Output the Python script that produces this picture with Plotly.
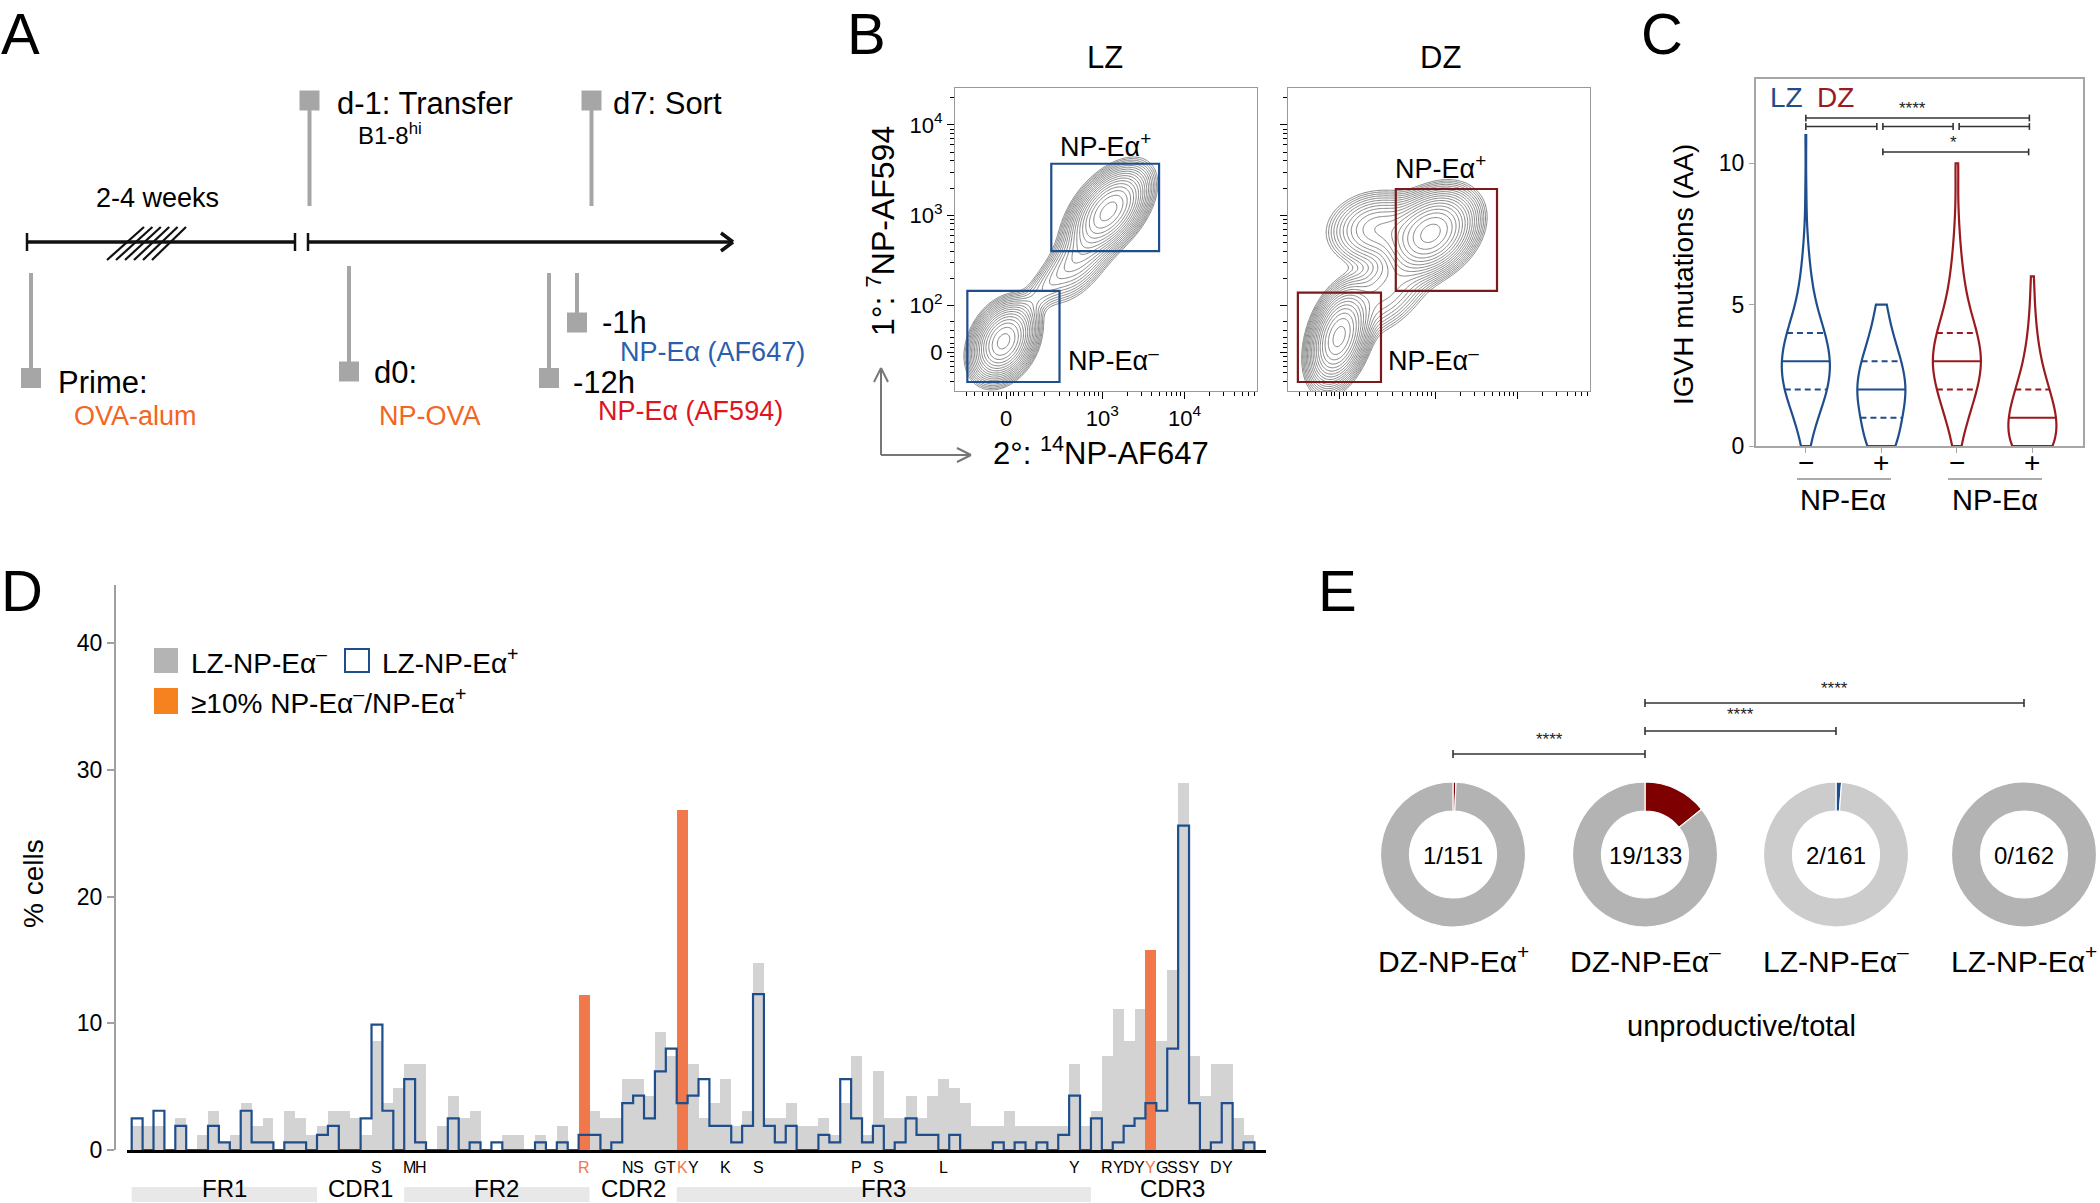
import numpy as np
import plotly.graph_objects as go

FONT = "Liberation Sans, Arial, sans-serif"
W, H = 2100, 1203

LZ_BLUE = "#1f4e8c"
DZ_RED = "#9a1b1f"
ORANGE = "#f0784a"

# ---------------- panel D: mutation frequency per IGHV residue (% cells)
residue = list(range(103))
lz_neg_pct = [1.9, 1.9, 1.9, 0, 2.5, 0, 1.2, 3.1, 0.6, 1.2,
              3.7, 1.9, 2.5, 0, 3.1, 2.5, 1.2, 1.9, 3.1, 3.1,
              2.5, 1.2, 8.6, 3.7, 4.9, 6.8, 6.8, 0, 1.9, 4.3,
              2.5, 3.1, 0, 0, 1.2, 1.2, 0, 1.2, 0, 1.9,
              0, 0, 3.1, 2.5, 2.5, 5.6, 5.6, 4.3, 9.3, 7.4,
              0, 6.8, 2.5, 3.7, 5.6, 1.9, 3.1, 14.8, 2.5, 2.5,
              3.7, 1.9, 1.9, 2.5, 1.2, 3.7, 7.4, 1.2, 6.2, 2.5,
              2.5, 4.3, 2.5, 4.3, 5.6, 4.9, 3.7, 1.9, 1.9, 1.9,
              3.1, 1.9, 1.9, 1.9, 1.9, 1.9, 6.8, 1.9, 3.1, 7.4,
              11.1, 8.6, 11.1, 0, 8.6, 14.2, 29.0, 7.4, 4.3, 6.8,
              6.8, 2.5, 1.2]
lz_pos_pct = [2.5, 0, 3.1, 0, 1.9, 0, 0, 1.9, 0.6, 0,
              3.1, 0.6, 0.6, 0, 0.6, 0.6, 0, 1.2, 1.9, 0,
              0, 2.5, 9.9, 3.1, 0, 5.6, 0.6, 0, 0, 2.5,
              0, 0.6, 0, 0.6, 0, 0, 0, 0.6, 0, 0.6,
              0, 1.2, 1.2, 0, 0.6, 3.7, 4.3, 2.5, 6.2, 8.0,
              3.7, 4.3, 5.6, 1.9, 1.9, 0.6, 1.9, 12.3, 1.9, 0.6,
              1.9, 0, 0, 1.2, 0.6, 5.6, 2.5, 0.6, 1.9, 0,
              0.6, 2.5, 1.2, 1.2, 0, 1.2, 0, 0, 0, 0.6,
              0, 0.6, 0, 0.6, 0, 1.2, 4.3, 0, 2.5, 0,
              0.6, 1.9, 2.5, 3.7, 3.1, 8.0, 25.6, 3.7, 0, 0.6,
              3.7, 0, 0.6]
hot_residue = [41, 50, 93]
hot_pct = [12.2, 26.8, 15.8]
aa_residue = [22, 25, 26, 41, 45, 46, 48, 49, 50, 51, 54, 57, 66, 68, 74, 86,
              89, 90, 91, 92, 93, 94, 95, 96, 97, 99, 100]
aa_letter = ["S", "M", "H", "R", "N", "S", "G", "T", "K", "Y", "K", "S", "P", "S", "L", "Y",
             "R", "Y", "D", "Y", "Y", "G", "S", "S", "Y", "D", "Y"]
region_name = ["FR1", "CDR1", "FR2", "CDR2", "FR3", "CDR3"]
region_from = [-0.5, 16.5, 24.5, 41.5, 49.5, 87.5]
region_to = [16.5, 24.5, 41.5, 49.5, 87.5, 102.5]
region_shaded = [True, False, True, False, True, False]

# ---------------- panel C: IGVH AA mutations per cell (cell counts)
mut_n = list(range(12))
lz_neg_cells = [6, 18, 35, 40, 30, 15, 8, 4, 1, 1, 0, 1]
lz_pos_cells = [28, 35, 45, 35, 18, 9]
dz_neg_cells = [4, 12, 22, 28, 22, 12, 7, 4, 2, 1, 2]
dz_pos_cells = [45, 45, 30, 15, 8, 4, 3]
c_ticks = ["−", "+", "−", "+"]

# ---------------- panel E: unproductive / total
e_groups = ["DZ-NP-Eα<sup>+</sup>", "DZ-NP-Eα<sup>–</sup>", "LZ-NP-Eα<sup>–</sup>", "LZ-NP-Eα<sup>+</sup>"]
e_unprod = [1, 19, 2, 0]
e_total = [151, 133, 161, 162]

# ---------------- panel B: populations (cx, cy, sx, sy, rho, weight) in decades
lz_pops = [(1.80, 1.60, 0.17, 0.19, 0.3, 1.0),
           (3.08, 3.05, 0.21, 0.21, 0.5, 1.0),
           (2.75, 2.55, 0.22, 0.25, 0.6, 0.15),
           (2.35, 2.25, 0.25, 0.25, 0.85, 0.06)]
dz_pops = [(1.83, 1.65, 0.16, 0.24, 0.35, 1.0),
           (2.95, 2.80, 0.24, 0.21, 0.3, 1.0),
           (2.30, 2.85, 0.28, 0.19, 0.1, 0.22),
           (2.40, 2.15, 0.28, 0.25, 0.5, 0.12)]


def px(x):
    return x / W


def py(y):
    return 1 - y / H


def T(x, y, text, size, color="black", xa="center", ya="middle", angle=0):
    return dict(x=px(x), y=py(y), xref="paper", yref="paper", text=text, showarrow=False,
                font=dict(size=size, color=color, family=FONT), xanchor=xa, yanchor=ya,
                textangle=angle)


def L(x0, y0, x1, y1, color="black", width=2, dash=None):
    return dict(type="line", xref="paper", yref="paper", x0=px(x0), y0=py(y0), x1=px(x1), y1=py(y1),
                line=dict(color=color, width=width, dash=dash))


def R(x0, y0, x1, y1, fill, line="rgba(0,0,0,0)", width=0):
    return dict(type="rect", xref="paper", yref="paper", x0=px(x0), y0=py(y0), x1=px(x1), y1=py(y1),
                fillcolor=fill, line=dict(color=line, width=width))


fig = go.Figure()
shapes = []
anns = []

# ======================= panel D
fig.add_trace(go.Bar(x=residue, y=lz_neg_pct, width=1, marker=dict(color="#d3d3d3", line=dict(width=0)),
                     xaxis="x", yaxis="y", hoverinfo="skip"))
fig.add_trace(go.Bar(x=hot_residue, y=hot_pct, width=1, marker=dict(color=ORANGE, line=dict(width=0)),
                     xaxis="x", yaxis="y", hoverinfo="skip"))
step_x = [-0.5] + [r - 0.5 for r in residue] + [residue[-1] + 0.5]
step_y = [0] + list(lz_pos_pct) + [0]
fig.add_trace(go.Scatter(x=step_x, y=step_y, mode="lines", line=dict(color=LZ_BLUE, width=2.2, shape="hv"),
                         xaxis="x", yaxis="y", hoverinfo="skip"))

for r, a in zip(aa_residue, aa_letter):
    anns.append(dict(x=r, y=py(1167), xref="x", yref="paper", text=a, showarrow=False,
                     xanchor="center", yanchor="middle",
                     font=dict(size=16, family=FONT, color=ORANGE if r in hot_residue else "black")))
for name, a, b, shaded in zip(region_name, region_from, region_to, region_shaded):
    if shaded:
        shapes.append(dict(type="rect", xref="x", yref="paper", x0=a, x1=b, y0=py(1202), y1=py(1187),
                           fillcolor="#e8e8e8", line=dict(width=0), layer="below"))
    anns.append(dict(x=(a + b) / 2, y=0, xref="x", yref="paper", text=name, showarrow=False,
                     xanchor="center", yanchor="bottom", borderpad=0,
                     font=dict(size=24, family=FONT, color="black")))

# legend D
shapes.append(R(154, 648, 178, 673, "#b4b4b4"))
shapes.append(R(345, 649, 369, 672, "white", LZ_BLUE, 2))
shapes.append(R(154, 688, 178, 714, "#f5821f"))
anns.append(T(189, 661, "LZ-NP-Eα<sup>–</sup>", 28, xa="left"))
anns.append(T(380, 661, "LZ-NP-Eα<sup>+</sup>", 28, xa="left"))
anns.append(T(189, 701, "≥10% NP-Eα<sup>–</sup>/NP-Eα<sup>+</sup>", 28, xa="left"))
anns.append(T(33, 884, "% cells", 28, angle=-90))

# ======================= panel C
BW = 0.7
VW = 0.636
for xpos, counts, col in ((1, lz_neg_cells, LZ_BLUE), (2, lz_pos_cells, LZ_BLUE),
                          (3, dz_neg_cells, DZ_RED), (4, dz_pos_cells, DZ_RED)):
    samples = np.repeat(np.array(mut_n[:len(counts)]), counts).astype(float)
    fig.add_trace(go.Violin(x0=xpos, y=samples, xaxis="x2", yaxis="y2", bandwidth=BW, spanmode="hard",
                            scalemode="width", width=VW, points=False, side="both",
                            line=dict(color=col, width=2.2), fillcolor="rgba(0,0,0,0)",
                            box_visible=False, meanline_visible=False, hoverinfo="skip"))
    grid = np.linspace(samples.min(), samples.max(), 500)
    peak = np.exp(-0.5 * ((grid[:, None] - samples[None, :]) / BW) ** 2).sum(1).max()
    q1, med, q3 = np.percentile(samples, [25, 50, 75])
    for q, dash in ((q1, "6px,4px"), (med, "solid"), (q3, "6px,4px")):
        d = np.exp(-0.5 * ((q - samples) / BW) ** 2).sum()
        hw = d / peak * VW / 2
        fig.add_trace(go.Scatter(x=[xpos - hw, xpos + hw], y=[q, q], mode="lines",
                                 line=dict(color=col, width=2, dash=dash),
                                 xaxis="x2", yaxis="y2", hoverinfo="skip"))


def bracket(x0, x1, y, xref, yref, cap, color="#333", width=1.6):
    out = [dict(type="line", xref=xref, yref=yref, x0=x0, x1=x1, y0=y, y1=y, line=dict(color=color, width=width))]
    for xx in (x0, x1):
        out.append(dict(type="line", xref=xref, yref=yref, x0=xx, x1=xx, y0=y - cap, y1=y + cap,
                        line=dict(color=color, width=width)))
    return out


shapes += bracket(1, 3.96, 11.6, "x2", "y2", 0.12)
for a, b in ((1, 1.94), (2.02, 2.95), (3.03, 3.96)):
    shapes += bracket(a, b, 11.3, "x2", "y2", 0.12)
shapes += bracket(2.02, 3.95, 10.4, "x2", "y2", 0.12)
anns.append(dict(x=2.41, y=11.95, xref="x2", yref="y2", text="****", showarrow=False,
                 xanchor="center", yanchor="middle", font=dict(size=17, family=FONT, color="#222")))
anns.append(dict(x=2.96, y=10.73, xref="x2", yref="y2", text="*", showarrow=False,
                 xanchor="center", yanchor="middle", font=dict(size=17, family=FONT, color="#222")))
for i, t in enumerate(c_ticks):
    anns.append(dict(x=i + 1, y=py(462), xref="x2", yref="paper", text=t, showarrow=False,
                     xanchor="center", yanchor="middle", font=dict(size=28, family=FONT, color="black")))
anns.append(T(1768, 98, "LZ", 28, LZ_BLUE, xa="left"))
anns.append(T(1815, 98, "DZ", 28, DZ_RED, xa="left"))
anns.append(T(1683, 275, "IGVH mutations (AA)", 28, angle=-90))
shapes.append(L(1797, 479, 1891, 479, "#aaaaaa", 2))
shapes.append(L(1948, 479, 2042, 479, "#aaaaaa", 2))
anns.append(T(1843, 500, "NP-Eα", 29))
anns.append(T(1995, 500, "NP-Eα", 29))

# ======================= panel B
gx = np.linspace(1.21, 4.88, 260)
gy = np.linspace(1.05, 4.41, 260)
GX, GY = np.meshgrid(gx, gy)
for pops, xa, ya in ((lz_pops, "x3", "y3"), (dz_pops, "x4", "y4")):
    Z = np.zeros_like(GX)
    for cx, cy, sx, sy, rho, w in pops:
        dx = (GX - cx) / sx
        dy = (GY - cy) / sy
        Z += w * np.exp(-0.5 * (dx * dx - 2 * rho * dx * dy + dy * dy) / (1 - rho * rho))
    Z = np.log10(Z / Z.max() + 1e-9)
    fig.add_trace(go.Contour(x=gx, y=gy, z=Z, xaxis=xa, yaxis=ya,
                             contours=dict(coloring="lines", start=-1.75, end=-0.03, size=0.1),
                             line=dict(width=0.8), colorscale=[[0, "#666666"], [1, "#666666"]],
                             showscale=False, hoverinfo="skip"))

gates = [("x3", "y3", 2.38, 3.69, 2.60, 3.57, LZ_BLUE),
         ("x3", "y3", 1.36, 2.48, 1.15, 2.16, LZ_BLUE),
         ("x4", "y4", 2.52, 3.75, 2.16, 3.29, "#7b1a1a"),
         ("x4", "y4", 1.33, 2.34, 1.15, 2.14, "#7b1a1a")]
for xa, ya, x0, x1, y0, y1, col in gates:
    shapes.append(dict(type="rect", xref=xa, yref=ya, x0=x0, x1=x1, y0=y0, y1=y1,
                       line=dict(color=col, width=2.2)))

anns.append(T(1105, 145, "NP-Eα<sup>+</sup>", 27))
anns.append(T(1066, 359, "NP-Eα<sup>–</sup>", 27, xa="left"))
anns.append(T(1440, 167, "NP-Eα<sup>+</sup>", 27))
anns.append(T(1386, 359, "NP-Eα<sup>–</sup>", 27, xa="left"))
anns.append(T(1105, 57, "LZ", 31))
anns.append(T(1440, 58, "DZ", 31))
anns.append(T(881, 231, "1°: <sup>7</sup>NP-AF594", 32, angle=-90))
anns.append(T(1101, 451, "2°: <sup>14</sup>NP-AF647", 31))
shapes.append(L(881, 455, 881, 370, "#777777", 2))
shapes.append(L(881, 455, 969, 455, "#777777", 2))
shapes.append(L(874, 382, 881, 368, "#777777", 2))
shapes.append(L(888, 382, 881, 368, "#777777", 2))
shapes.append(L(957, 448, 971, 455, "#777777", 2))
shapes.append(L(957, 462, 971, 455, "#777777", 2))

# ======================= panel E
e_cols = [("#7f0000", "#b3b3b3"), ("#7f0000", "#b3b3b3"), (LZ_BLUE, "#cccccc"), (LZ_BLUE, "#b3b3b3")]
e_cx = [1453, 1645, 1836, 2024]
for g, u, t, cx, cols in zip(e_groups, e_unprod, e_total, e_cx, e_cols):
    fig.add_trace(go.Pie(values=[u, t - u], hole=0.6, sort=False, direction="clockwise", rotation=0,
                         marker=dict(colors=list(cols), line=dict(color="white", width=1.2)),
                         textinfo="none", hoverinfo="skip",
                         domain=dict(x=[px(cx - 72.5), px(cx + 72.5)], y=[py(927), py(782)])))
    anns.append(T(cx, 855, f"{u}/{t}", 24))
    anns.append(T(cx, 959, g, 30))
anns.append(T(1741, 1026, "unproductive/total", 29))
for (i, j), yb, ys in (((0, 1), 754, 739), ((1, 2), 731, 714), ((1, 3), 703, 688)):
    shapes.append(L(e_cx[i], yb, e_cx[j], yb, "#333333", 1.6))
    shapes.append(L(e_cx[i], yb - 4, e_cx[i], yb + 4, "#333333", 1.6))
    shapes.append(L(e_cx[j], yb - 4, e_cx[j], yb + 4, "#333333", 1.6))
    anns.append(T((e_cx[i] + e_cx[j]) / 2, ys, "****", 17, "#222"))

# ======================= panel A (timeline schematic)
shapes.append(L(27, 242, 295, 242, "#111111", 3.5))
shapes.append(L(27, 233, 27, 251, "#111111", 2.5))
shapes.append(L(295, 233, 295, 251, "#111111", 2.5))
shapes.append(L(308, 242, 731, 242, "#111111", 3.5))
shapes.append(L(308, 233, 308, 251, "#111111", 2.5))
shapes.append(L(721, 233, 733, 242, "#111111", 3.5))
shapes.append(L(721, 251, 733, 242, "#111111", 3.5))
for k in range(6):
    shapes.append(L(107 + 9 * k, 260, 144 + 8.4 * k, 227, "#111111", 2.2))
GREY = "#a6a6a6"
for x, ytop, ybot, ysq in ((31, 273, 368, 378), (309.5, 110, 206, 100.5), (591.5, 110, 206, 100.5),
                           (349, 266, 362, 371.5), (549, 273, 368, 378), (577, 273, 313, 322.5)):
    shapes.append(L(x, ytop, x, ybot, GREY, 4))
    shapes.append(R(x - 10, ysq - 10, x + 10, ysq + 10, GREY))
anns.append(T(157, 198, "2-4 weeks", 27))
anns.append(T(56, 383, "Prime:", 31, xa="left"))
anns.append(T(135, 416, "OVA-alum", 27, "#f26522"))
anns.append(T(335, 104, "d-1: Transfer", 31, xa="left"))
anns.append(T(356, 134, "B1-8<sup>hi</sup>", 24, xa="left"))
anns.append(T(611, 104, "d7: Sort", 31, xa="left"))
anns.append(T(372, 373, "d0:", 31, xa="left"))
anns.append(T(430, 416, "NP-OVA", 27, "#f26522"))
anns.append(T(571, 383, "-12h", 31, xa="left"))
anns.append(T(690, 411, "NP-Eα (AF594)", 27, "#e0141e"))
anns.append(T(600, 323, "-1h", 31, xa="left"))
anns.append(T(712, 352, "NP-Eα (AF647)", 27, "#2b5fad"))

# panel letters (top row pinned to the page top so nothing is clipped)
for letter, x in (("A", 20), ("B", 866), ("C", 1662)):
    anns.append(dict(x=px(x), y=1, xref="paper", yref="paper", text=letter, showarrow=False,
                     xanchor="center", yanchor="top", borderpad=0,
                     font=dict(size=58, family=FONT, color="black")))
for letter, x, y in (("D", 22, 590), ("E", 1337, 590)):
    anns.append(T(x, y, letter, 58))

# ======================= axes
ytick_minor = [1.15, 1.25, 1.32, 1.38, 1.43, 1.53, 1.58, 1.64, 1.72, 1.82] + \
    [d + np.log10(m) for d in (2, 3, 4) for m in range(2, 10) if d + np.log10(m) < 4.41]
xtick_minor = [1.35, 1.45, 1.55, 1.62, 1.68, 1.74, 1.78, 1.88, 1.92, 1.98, 2.05, 2.15, 2.3] + \
    [d + np.log10(m) for d in (2, 3, 4) for m in range(2, 10) if 2.35 < d + np.log10(m) < 4.88]

b_x = dict(range=[1.21, 4.88], showgrid=False, zeroline=False, showline=True, mirror=True,
           linecolor="#999999", linewidth=1.2, ticks="outside", ticklen=7, tickcolor="black",
           tickvals=[1.83, 3, 4], ticktext=["0", "10<sup>3</sup>", "10<sup>4</sup>"],
           tickfont=dict(size=22, family=FONT, color="black"), automargin=False,
           minor=dict(tickvals=xtick_minor, ticks="outside", ticklen=4, tickcolor="black"))
b_y = dict(range=[1.05, 4.41], showgrid=False, zeroline=False, showline=True, mirror=True,
           linecolor="#999999", linewidth=1.2, ticks="outside", ticklen=7, tickcolor="black",
           tickvals=[1.48, 2, 3, 4], ticktext=["0", "10<sup>2</sup>", "10<sup>3</sup>", "10<sup>4</sup>"],
           tickfont=dict(size=22, family=FONT, color="black"), automargin=False,
           minor=dict(tickvals=ytick_minor, ticks="outside", ticklen=4, tickcolor="black"))

fig.update_layout(
    width=W, height=H, margin=dict(l=0, r=0, t=0, b=0, autoexpand=False),
    paper_bgcolor="white", plot_bgcolor="white", showlegend=False,
    barmode="overlay", bargap=0, violinmode="overlay",
    font=dict(family=FONT, color="black"),
    xaxis=dict(domain=[px(127), px(1266)], range=[-0.931, 103.56], anchor="y", automargin=False,
               showgrid=False, zeroline=False, showline=True, linecolor="black", linewidth=3,
               ticks="", showticklabels=False),
    yaxis=dict(domain=[py(1150), py(585)], range=[0, 44.6], anchor="free", position=px(115),
               automargin=False,
               showgrid=False, zeroline=False, showline=True, linecolor="#a0a0a0", linewidth=2,
               ticks="outside", ticklen=7, tickwidth=2, tickcolor="#a0a0a0",
               tickvals=[0, 10, 20, 30, 40], tickfont=dict(size=23, family=FONT, color="black")),
    xaxis2=dict(domain=[px(1756), px(2083)], range=[0.34, 4.67], anchor="y2", automargin=False,
                showgrid=False, zeroline=False, showline=True, mirror=True, linecolor="#a6a6a6",
                linewidth=2, ticks="outside", ticklen=5, tickcolor="#a6a6a6",
                tickvals=[1, 2, 3, 4], showticklabels=False),
    yaxis2=dict(domain=[py(446), py(79)], range=[0, 12.98], anchor="x2", automargin=False,
                showgrid=False, zeroline=False, showline=True, mirror=True, linecolor="#a6a6a6",
                linewidth=2, ticks="outside", ticklen=5, tickcolor="#a6a6a6",
                tickvals=[0, 5, 10], tickfont=dict(size=23, family=FONT, color="black")),
    xaxis3=dict(domain=[px(955), px(1257)], anchor="y3", **b_x),
    yaxis3=dict(domain=[py(391), py(88)], anchor="x3", **b_y),
    xaxis4=dict(domain=[px(1288), px(1590)], anchor="y4", **{**b_x, "showticklabels": False}),
    yaxis4=dict(domain=[py(391), py(88)], anchor="x4", **{**b_y, "showticklabels": False}),
    shapes=shapes, annotations=anns,
)

# the page opens at exactly the figure size, so drop the default body margin
fig.write_html("out.html", config={"displayModeBar": False},
               post_script="document.body.style.margin='0';document.body.style.overflow='hidden';")
